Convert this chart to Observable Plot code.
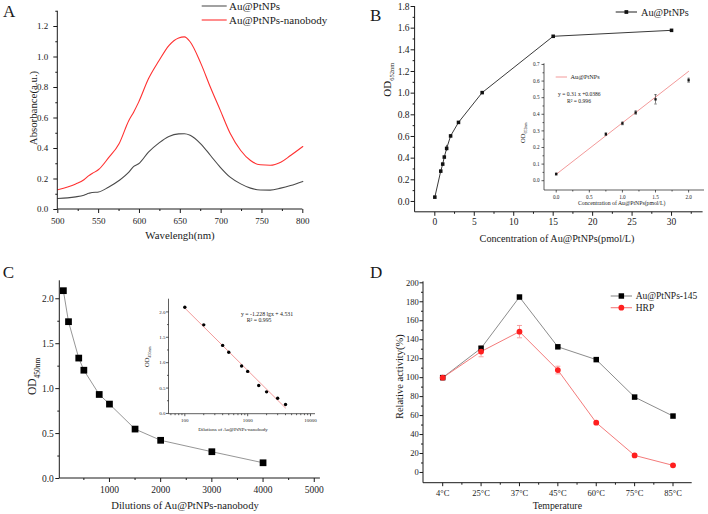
<!DOCTYPE html>
<html>
<head>
<meta charset="utf-8">
<script src="https://cdn.jsdelivr.net/npm/d3@7"></script>
<script src="https://cdn.jsdelivr.net/npm/@observablehq/plot@0.6"></script>
<style>
  html, body { margin: 0; padding: 0; background: #fff; }
  #fig { position: relative; width: 708px; height: 514px; overflow: hidden; background: #fff; }
  #fig > svg { position: absolute; }
  #fig text { font-family: "Liberation Serif", "Times New Roman", Times, serif; }
</style>
</head>
<body>
<div id="fig"></div>
<script>
const FONT = "Liberation Serif, Times New Roman, Times, serif";
const INK = "#1a1a1a";

// ---------- A: UV-vis absorption spectra ----------
const wavelength = [500, 512, 522, 532, 538, 542, 550, 562, 575, 587, 593, 599, 611, 624, 636, 648, 655, 662, 675, 687, 699, 711, 724, 736, 748, 760, 773, 785, 800];
const absAuPtNPs = [0.072, 0.076, 0.083, 0.094, 0.106, 0.112, 0.115, 0.146, 0.19, 0.245, 0.283, 0.30, 0.376, 0.437, 0.479, 0.496, 0.497, 0.487, 0.431, 0.354, 0.277, 0.212, 0.168, 0.14, 0.128, 0.127, 0.14, 0.157, 0.184];
const absNanobody = [0.13, 0.148, 0.168, 0.195, 0.222, 0.236, 0.262, 0.338, 0.431, 0.584, 0.64, 0.704, 0.857, 0.977, 1.075, 1.125, 1.132, 1.10, 0.96, 0.80, 0.65, 0.50, 0.387, 0.321, 0.293, 0.29, 0.31, 0.354, 0.413];
const seriesA = ["Au@PtNPs", "Au@PtNPs-nanobody"];
const ticksAx = [500, 550, 600, 650, 700, 750, 800];
const ticksAy = [0, 0.2, 0.4, 0.6, 0.8, 1.0, 1.2];

// ---------- B: OD652 vs Au@PtNPs concentration ----------
const concentration = [0, 0.75, 1, 1.2, 1.5, 2, 3, 6, 15, 30];
const od652 = [0.04, 0.28, 0.345, 0.41, 0.49, 0.605, 0.73, 1.005, 1.525, 1.58];
const od652Err = [0.006, 0.008, 0.008, 0.01, 0.028, 0.012, 0.008, 0.008, 0.006, 0.006];
const calibrationPoints = 6;               // points used in the linear-range inset
const fitB = {slope: 0.31, intercept: 0.0386, from: 0, to: 2, text: "y = 0.31 x +0.0386", r2: "R² = 0.996"};
const ticksBx = [0, 5, 10, 15, 20, 25, 30];
const ticksBy = [0, 0.2, 0.4, 0.6, 0.8, 1.0, 1.2, 1.4, 1.6, 1.8];
const ticksBix = [0, 0.5, 1.0, 1.5, 2.0];
const ticksBiy = [0, 0.1, 0.2, 0.3, 0.4, 0.5, 0.6, 0.7];

// ---------- C: OD450 vs dilution of Au@PtNPs-nanobody ----------
const dilutions = [100, 200, 400, 500, 800, 1000, 1500, 2000, 3000, 4000];
const od450 = [2.09, 1.745, 1.34, 1.205, 0.935, 0.828, 0.55, 0.425, 0.298, 0.175];
const fitC = {slope: -1.228, intercept: 4.531, from: 100, to: 4000, text: "y = -1.228 lgx + 4.531", r2: "R² = 0.995"};
const ticksCx = [1000, 2000, 3000, 4000, 5000];
const ticksCy = [0, 0.5, 1.0, 1.5, 2.0];
const ticksCix = [100, 1000, 10000];
const ticksCiy = [0, 0.5, 1.0, 1.5, 2.0];

// ---------- D: thermal stability ----------
const temperatures = ["4°C", "25°C", "37°C", "45°C", "60°C", "75°C", "85°C"];
const activityAuPt = [100, 131, 185, 132.5, 119, 79.5, 59.5];
const activityAuPtErr = [1, 2, 1, 1, 1, 1, 1];
const activityHRP = [100, 127.5, 148.5, 108, 52.5, 18, 7.5];
const activityHRPErr = [1, 5.5, 6.5, 4, 1.5, 1.5, 1.5];
const seriesD = ["Au@PtNPs-145", "HRP"];
const ticksDy = [0, 20, 40, 60, 80, 100, 120, 140, 160, 180, 200];

// ---------- helpers ----------
const fig = document.getElementById("fig");
const fmt1 = d3.format(".1f");
const fmtInt = d => String(d);
const blank = () => "";

function mount(svg, left, top) {
  svg.style.left = left + "px";
  svg.style.top = top + "px";
  fig.appendChild(svg);
  return svg;
}

function frameStyle(size) {
  return `font-family: ${FONT}; font-size: ${size}px; color: ${INK}; background: transparent; overflow: visible;`;
}

// outward major + minor ticks on the bottom and left axes
function tickAxes(o) {
  const major = o.major ?? 4, minor = o.minor ?? 2, sw = o.sw ?? 1;
  const text = {fontSize: o.size, fontFamily: FONT, label: null, strokeWidth: sw};
  const m = [
    Plot.axisX(o.x, {tickSize: major, tickPadding: o.padX ?? 3, tickFormat: o.xFormat, ...text}),
    Plot.axisY(o.y, {tickSize: major, tickPadding: o.padY ?? 3, tickFormat: o.yFormat, ...text})
  ];
  if (o.xMinor) m.push(Plot.axisX(o.xMinor, {tickSize: minor, tickFormat: blank, ...text}));
  if (o.yMinor) m.push(Plot.axisY(o.yMinor, {tickSize: minor, tickFormat: blank, ...text}));
  return m;
}

// L-shaped axis lines along the frame's left and bottom edges
function axisLines(svg, width = 1) {
  const [x0, x1] = svg.scale("x").range;
  const [ya, yb] = svg.scale("y").range;
  d3.select(svg).append("path")
    .attr("d", `M${x0},${Math.min(ya, yb)}V${Math.max(ya, yb)}H${x1}`)
    .attr("fill", "none").attr("stroke", INK).attr("stroke-width", width);
}

// text with optional subscript parts
function say(svg, x, y, parts, {size = 10, anchor = "start", rotate = 0, fill = INK, middle = true} = {}) {
  const t = d3.select(svg).append("text")
    .attr("transform", `translate(${x},${y})` + (rotate ? ` rotate(${rotate})` : ""))
    .attr("font-family", FONT)
    .attr("font-size", size).attr("text-anchor", anchor).attr("fill", fill);
  if (middle) t.attr("dy", "0.35em");
  for (const p of [].concat(parts)) {
    const s = t.append("tspan").text(typeof p === "string" ? p : p.text);
    if (typeof p !== "string") s.attr("font-size", p.size).attr("dy", p.dy);
  }
  return t;
}

// legend entry: line sample, optional marker, label
function key(svg, x1, x2, y, line, label, {size = 10, marker = null, gap = 3, width = 1.1} = {}) {
  const g = d3.select(svg).append("g");
  g.append("line").attr("x1", x1).attr("x2", x2).attr("y1", y).attr("y2", y)
    .attr("stroke", line).attr("stroke-width", width);
  if (marker) {
    g.append("path").attr("transform", `translate(${(x1 + x2) / 2},${y})`)
      .attr("d", d3.symbol(marker.type, marker.area)()).attr("fill", marker.fill);
  }
  say(svg, x2 + gap, y, label, {size});
}

// horizontal error-bar cap drawn as a dot symbol
const cap = {draw(ctx, size) { const r = Math.sqrt(size / Math.PI); ctx.moveTo(-r, 0); ctx.lineTo(r, 0); }};

// ================= Panel A =================
{
  const svg = Plot.plot({
    width: 354, height: 257,
    marginLeft: 57.3, marginRight: 51.7, marginTop: 10.75, marginBottom: 48,
    x: {domain: [500, 800]},
    y: {domain: [0, 1.3]},
    style: frameStyle(9),
    marks: [
      ...tickAxes({x: ticksAx, xMinor: d3.range(525, 800, 50), y: ticksAy, yMinor: [0.1, 0.3, 0.5, 0.7, 0.9, 1.1, 1.3],
        xFormat: fmtInt, yFormat: fmt1, size: 9, padX: 4, padY: 5.5}),
      Plot.lineY(absAuPtNPs, {x: wavelength, stroke: "#4a4a4a", strokeWidth: 1.1, curve: "monotone-x"}),
      Plot.lineY(absNanobody, {x: wavelength, stroke: "#ff3030", strokeWidth: 1.1, curve: "monotone-x"})
    ]
  });
  axisLines(svg);
  say(svg, 3, 16.7, "A", {size: 17, middle: false});
  say(svg, 180, 235, "Wavelengh(nm)", {size: 10.8, anchor: "middle"});
  say(svg, 33, 108, "Absorbance(a.u.)", {size: 10.8, anchor: "middle", rotate: -90});
  key(svg, 201.7, 226.7, 6, "#555", seriesA[0], {size: 11, gap: 2.3});
  key(svg, 201.7, 226.7, 20, "#ff3030", seriesA[1], {size: 11, gap: 2.3});
  mount(svg, 0, 0);
}

// ================= Panel B =================
const rowsB = concentration.map((c, i) => ({c, od: od652[i], err: od652Err[i]}));
{
  const svg = Plot.plot({
    width: 354, height: 257,
    marginLeft: 60.6, marginRight: 5.4, marginTop: 6, marginBottom: 45.2,
    x: {domain: [-2.5, 34]},
    y: {domain: [-0.1, 1.8]},
    style: frameStyle(9.5),
    marks: [
      ...tickAxes({x: ticksBx, xMinor: d3.range(2.5, 33, 5), y: ticksBy, yMinor: d3.range(0.1, 1.75, 0.2),
        xFormat: fmtInt, yFormat: fmt1, size: 9.5, padX: 1.5, padY: 1.6}),
      Plot.line(rowsB, {x: "c", y: "od", stroke: "#3a3a3a", strokeWidth: 1}),
      Plot.ruleX(rowsB, {x: "c", y1: d => d.od - d.err, y2: d => d.od + d.err, stroke: "#333", strokeWidth: 0.8}),
      Plot.dot(rowsB, {x: "c", y: "od", symbol: "square", r: 2, fill: "#111"})
    ]
  });
  axisLines(svg);
  say(svg, 16, 20.7, "B", {size: 17, middle: false});
  say(svg, 203, 238, "Concentration of Au@PtNPs(pmol/L)", {size: 10.2, anchor: "middle"});
  say(svg, 33.3, 96.7, ["OD", {text: "652nm", size: 6.5, dy: 3}], {size: 11, rotate: -90});
  key(svg, 261.7, 283, 12, "#333", seriesA[0], {size: 10.3, gap: 4,
    marker: {type: d3.symbolSquare, area: 14, fill: "#111"}});
  mount(svg, 354, 0);
}

// ---- B inset: linear range ----
{
  const rows = rowsB.slice(0, calibrationPoints);
  const fit = [fitB.from, fitB.to].map(c => ({c, od: fitB.slope * c + fitB.intercept}));
  const svg = Plot.plot({
    width: 208, height: 160,
    marginLeft: 44, marginRight: 4, marginTop: 8.3, marginBottom: 25,
    x: {domain: [-0.177, 2.24]},
    y: {domain: [-0.059, 0.704]},
    style: frameStyle(5.2),
    marks: [
      ...tickAxes({x: ticksBix, xMinor: [0.25, 0.75, 1.25, 1.75], y: ticksBiy, yMinor: d3.range(0.05, 0.7, 0.1),
        xFormat: fmt1, yFormat: fmt1, size: 5.2, major: 2.5, minor: 1.5, padX: 2.5, padY: 2.5, sw: 0.7}),
      Plot.line(fit, {x: "c", y: "od", stroke: "#f39a9a", strokeWidth: 1}),
      Plot.ruleX(rows, {x: "c", y1: d => d.od - d.err, y2: d => d.od + d.err, stroke: "#333", strokeWidth: 0.6}),
      Plot.dot(rows, {x: "c", y: d => d.od + d.err, symbol: cap, r: 1.3, stroke: "#333", strokeWidth: 0.6, fill: "none"}),
      Plot.dot(rows, {x: "c", y: d => d.od - d.err, symbol: cap, r: 1.3, stroke: "#333", strokeWidth: 0.6, fill: "none"}),
      Plot.dot(rows, {x: "c", y: "od", symbol: "square", r: 1.3, fill: "#111"})
    ]
  });
  axisLines(svg, 0.7);
  key(svg, 55.7, 67, 22, "#f39a9a", seriesA[0], {size: 6.3, gap: 3.5, width: 1});
  say(svg, 58, 39, fitB.text, {size: 5.6});
  say(svg, 67, 46, fitB.r2, {size: 5.6});
  say(svg, 22.3, 88, ["OD", {text: "652nm", size: 4, dy: 2}], {size: 6.5, rotate: -90});
  say(svg, 121.7, 148.3, "Concentration of Au@PtNPs(pmol/L)", {size: 5.75, anchor: "middle"});
  mount(svg, 500, 55);
}

// ================= Panel C =================
const rowsC = dilutions.map((d, i) => ({d, od: od450[i]}));
{
  const svg = Plot.plot({
    width: 354, height: 257,
    marginLeft: 59.3, marginRight: 34.1, marginTop: 23.3, marginBottom: 36,
    x: {domain: [30, 5120]},
    y: {domain: [0, 2.2]},
    style: frameStyle(9.5),
    marks: [
      ...tickAxes({x: ticksCx, xMinor: d3.range(500, 5000, 1000), y: ticksCy, yMinor: [0.25, 0.75, 1.25, 1.75],
        xFormat: fmtInt, yFormat: fmt1, size: 9.5, padX: 4, padY: 2}),
      Plot.line(rowsC, {x: "d", y: "od", stroke: "#8a8a8a", strokeWidth: 0.9}),
      Plot.dot(rowsC, {x: "d", y: "od", symbol: "square", r: 3.8, fill: "#000"})
    ]
  });
  axisLines(svg);
  say(svg, 2.7, 20.7, "C", {size: 17, middle: false});
  say(svg, 185, 248.3, "Dilutions of Au@PtNPs-nanobody", {size: 10.6, anchor: "middle"});
  say(svg, 32.3, 138, ["OD", {text: "450nm", size: 7.4, dy: 3.5}], {size: 11.5, rotate: -90});
  mount(svg, 0, 257);
}

// ---- C inset: semi-log calibration ----
{
  const fit = [fitC.from, fitC.to].map(d => ({d, od: fitC.slope * Math.log10(d) + fitC.intercept}));
  const minor = [60, 70, 80, 90, 200, 300, 400, 500, 600, 700, 800, 900, 2000, 3000, 4000, 5000, 6000, 7000, 8000, 9000];
  const svg = Plot.plot({
    width: 200, height: 150,
    marginLeft: 38.5, marginRight: 15, marginTop: 8.7, marginBottom: 26.3,
    x: {type: "log", domain: [56, 12000]},
    y: {domain: [-0.015, 2.25]},
    style: frameStyle(5),
    marks: [
      ...tickAxes({x: ticksCix, xMinor: minor, y: ticksCiy, yMinor: [0.25, 0.75, 1.25, 1.75],
        xFormat: fmtInt, yFormat: fmt1, size: 5, major: 2.5, minor: 1.5, padX: 1.5, padY: 1, sw: 0.7}),
      Plot.line(fit, {x: "d", y: "od", stroke: "#f29a9a", strokeWidth: 1}),
      Plot.dot(rowsC, {x: "d", y: "od", r: 1.7, fill: "#000"})
    ]
  });
  axisLines(svg, 0.7);
  say(svg, 111, 23.7, fitC.text, {size: 5.8});
  say(svg, 116.7, 30.3, fitC.r2, {size: 5.8});
  say(svg, 16.7, 77, ["OD", {text: "450nm", size: 4, dy: 2}], {size: 6.5, rotate: -90});
  say(svg, 103, 139.3, "Dilutions of Au@PtNPs-nanobody", {size: 5, anchor: "middle"});
  mount(svg, 130, 290);
}

// ================= Panel D =================
{
  const au = temperatures.map((t, i) => ({i, v: activityAuPt[i], e: activityAuPtErr[i]}));
  const hrp = temperatures.map((t, i) => ({i, v: activityHRP[i], e: activityHRPErr[i]}));
  const errColor = "#f59a9a";
  const svg = Plot.plot({
    width: 354, height: 257,
    marginLeft: 69, marginRight: 16.3, marginTop: 24.35, marginBottom: 31.3,
    x: {domain: [-0.5, 6.5]},
    y: {domain: [-11.3, 201]},
    style: frameStyle(8.5),
    marks: [
      ...tickAxes({x: d3.range(temperatures.length), xMinor: d3.range(0.5, 6, 1), y: ticksDy, yMinor: d3.range(10, 200, 20),
        xFormat: i => temperatures[i], yFormat: fmtInt, size: 8.5, major: 3.5, minor: 2, padX: 3.5, padY: 1.2}),
      Plot.line(au, {x: "i", y: "v", stroke: "#8c8c8c", strokeWidth: 1}),
      Plot.line(hrp, {x: "i", y: "v", stroke: "#f47b7b", strokeWidth: 1}),
      Plot.ruleX(au, {x: "i", y1: d => d.v - d.e, y2: d => d.v + d.e, stroke: "#666", strokeWidth: 0.8}),
      Plot.ruleX(hrp, {x: "i", y1: d => d.v - d.e, y2: d => d.v + d.e, stroke: errColor, strokeWidth: 0.9}),
      Plot.dot(hrp, {x: "i", y: d => d.v + d.e, symbol: cap, r: 2.5, stroke: errColor, strokeWidth: 0.9, fill: "none"}),
      Plot.dot(hrp, {x: "i", y: d => d.v - d.e, symbol: cap, r: 2.5, stroke: errColor, strokeWidth: 0.9, fill: "none"}),
      Plot.dot(au, {x: "i", y: "v", symbol: "square", r: 3.1, fill: "#000"}),
      Plot.dot(hrp, {x: "i", y: "v", r: 2.9, fill: "#ff1f1f"})
    ]
  });
  axisLines(svg);
  say(svg, 16, 21.3, "D", {size: 17, middle: false});
  say(svg, 203.3, 248.3, "Temperature", {size: 9.8, anchor: "middle"});
  say(svg, 45, 119.7, "Relative activity(%)", {size: 10.5, anchor: "middle", rotate: -90});
  key(svg, 256.7, 278, 39, "#8c8c8c", seriesD[0], {size: 9.5, gap: 3.7,
    marker: {type: d3.symbolSquare, area: 30, fill: "#000"}});
  key(svg, 256.7, 278, 50.7, "#f47b7b", seriesD[1], {size: 9.5, gap: 3.7,
    marker: {type: d3.symbolCircle, area: 26, fill: "#ff1f1f"}});
  mount(svg, 354, 257);
}
</script>
</body>
</html>
